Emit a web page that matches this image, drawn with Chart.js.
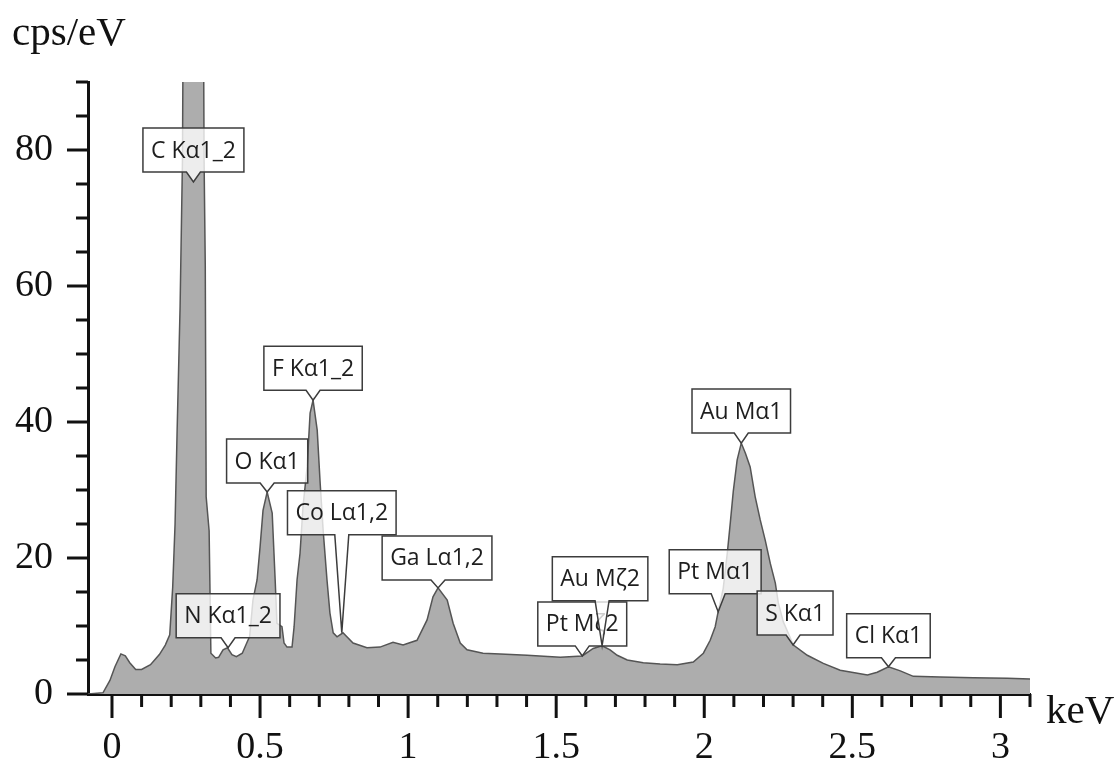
<!DOCTYPE html>
<html>
<head>
<meta charset="utf-8">
<script src="https://cdn.jsdelivr.net/npm/chart.js@4.4.1/dist/chart.umd.min.js"></script>
<style>
  html, body { margin: 0; padding: 0; background: #fff; }
  canvas { display: block; }
</style>
</head>
<body>
<canvas id="spectrum" width="1118" height="767"></canvas>
<script>
// EDS spectrum (keV / cps per eV)
const energies = [
  -0.081, -0.03, -0.007, 0.01, 0.03, 0.045, 0.06, 0.08, 0.10, 0.13,
  0.16, 0.18, 0.195, 0.205, 0.213, 0.22, 0.23, 0.238, 0.245, 0.305,
  0.311, 0.315, 0.318, 0.328, 0.334, 0.35, 0.36, 0.375, 0.39, 0.405,
  0.42, 0.44, 0.455, 0.465, 0.476, 0.49, 0.50, 0.51, 0.524, 0.541,
  0.551, 0.557, 0.574, 0.581, 0.591, 0.608, 0.615, 0.625, 0.635, 0.645,
  0.659, 0.669, 0.679, 0.693, 0.703, 0.713, 0.726, 0.736, 0.747, 0.76,
  0.78, 0.814, 0.861, 0.905, 0.949, 0.983, 1.03, 1.064, 1.084, 1.101,
  1.132, 1.152, 1.176, 1.199, 1.253, 1.311, 1.402, 1.514, 1.588, 1.625,
  1.655, 1.682, 1.706, 1.74, 1.794, 1.851, 1.909, 1.963, 1.997, 2.02,
  2.037, 2.047, 2.064, 2.078, 2.088, 2.098, 2.111, 2.125, 2.139, 2.155,
  2.172, 2.189, 2.206, 2.223, 2.24, 2.25, 2.267, 2.301, 2.348, 2.402,
  2.459, 2.551, 2.584, 2.622, 2.662, 2.706, 2.797, 2.909, 3.024, 3.101
];
const counts = [
  0, 0.2, 2.0, 4.0, 5.9, 5.6, 4.6, 3.6, 3.6, 4.3,
  5.8, 7.2, 8.7, 15.7, 25, 38.8, 57, 78.5, 140, 140,
  78.5, 63, 29, 24, 6, 5.3, 5.4, 6.5, 6.8, 5.8,
  5.5, 6.0, 7.5, 8.5, 13.8, 16.8, 21.6, 27, 29.7, 26.6,
  16.8, 10.4, 9.9, 7.5, 6.9, 6.9, 9.9, 16.8, 20.7, 27.5,
  33.4, 41.3, 43.2, 38.8, 31, 24.1, 16.8, 11.9, 9, 8.4,
  9, 7.5, 6.8, 6.9, 7.6, 7.2, 7.9, 10.9, 14.3, 15.6,
  13.8, 10.4, 7.5, 6.5, 6.0, 5.9, 5.7, 5.4, 5.6, 6.7,
  7.1, 6.5, 5.7, 5.0, 4.6, 4.4, 4.3, 4.7, 6.0, 7.9,
  9.9, 12.1, 15.5, 20.8, 25.2, 29.8, 34.4, 36.9, 35.4, 33.4,
  29.0, 25.6, 22.6, 19.2, 16.3, 13.4, 10.6, 7.2, 5.7, 4.5,
  3.5, 2.8, 3.2, 4.0, 3.4, 2.6, 2.5, 2.4, 2.3, 2.2
];

const xTickLabels = ['0', '0.5', '1', '1.5', '2', '2.5', '3'];
const yTickLabels = ['0', '20', '40', '60', '80'];

// peak callouts
const peakNames = ['C Kα1_2', 'N Kα1_2', 'O Kα1', 'F Kα1_2', 'Co Lα1,2', 'Ga Lα1,2',
  'Pt Mζ2', 'Au Mζ2', 'Pt Mα1', 'Au Mα1', 'S Kα1', 'Cl Kα1'];
const peakEnergies = [0.275, 0.392, 0.524, 0.679, 0.776, 1.101, 1.588, 1.655, 2.047, 2.125, 2.30, 2.622];
const peakCounts = [75.3, 6.8, 29.7, 43.2, 9.0, 15.6, 5.6, 7.1, 12.1, 36.9, 7.2, 4.0];

// where each box sits relative to its peak: [dx, gap above tip] in px
const peakBoxOffsets = [[0, 10], [0, 10], [0, 9], [0, 10], [0, 98], [-1, 8],
  [0, 10], [-2, 45], [-3, 18], [0, 10], [2, 10], [0, 9]];

const serif = '"Liberation Serif", "DejaVu Serif", serif';

function xLabel(v) {
  const s = String(+v.toFixed(1));
  return xTickLabels.includes(s) ? s : '';
}
function yLabel(v) {
  const s = String(Math.round(v));
  return yTickLabels.includes(s) ? s : '';
}

const peakLabels = {
  id: 'peakLabels',
  afterDatasetsDraw(chart) {
    const { ctx, scales: { x, y } } = chart;
    ctx.save();
    ctx.font = '23px "Open Sans"';
    ctx.lineWidth = 1.5;
    peakNames.forEach((name, i) => {
      const tx = x.getPixelForValue(peakEnergies[i]);
      const ty = y.getPixelForValue(peakCounts[i]);
      const [dx, gap] = peakBoxOffsets[i];
      const w = ctx.measureText(name).width + 16;
      const h = 44;
      const cx = tx + dx;
      const bottom = ty - gap;
      const left = cx - w / 2, right = cx + w / 2, top = bottom - h;
      ctx.beginPath();
      ctx.moveTo(left, top);
      ctx.lineTo(right, top);
      ctx.lineTo(right, bottom);
      ctx.lineTo(tx + 7, bottom);
      ctx.lineTo(tx, ty);
      ctx.lineTo(tx - 7, bottom);
      ctx.lineTo(left, bottom);
      ctx.closePath();
      ctx.fillStyle = 'rgba(255,255,255,0.78)';
      ctx.fill();
      ctx.strokeStyle = '#3c3c3c';
      ctx.stroke();
      ctx.fillStyle = '#1e1e1e';
      ctx.textAlign = 'center';
      ctx.textBaseline = 'middle';
      ctx.fillText(name, cx, top + h / 2 + 1);
    });
    ctx.restore();
  }
};

// tick marks (long at labelled values) and axis titles
const axisDecor = {
  id: 'axisDecor',
  afterDraw(chart) {
    const { ctx, chartArea, scales: { x, y } } = chart;
    ctx.save();
    ctx.strokeStyle = '#111';
    ctx.lineWidth = 3;
    x.ticks.forEach(t => {
      const px = x.getPixelForValue(t.value);
      const len = xLabel(t.value) ? 24 : 13;
      ctx.beginPath();
      ctx.moveTo(px, chartArea.bottom);
      ctx.lineTo(px, chartArea.bottom + len);
      ctx.stroke();
    });
    y.ticks.forEach(t => {
      const py = y.getPixelForValue(t.value);
      const len = yLabel(t.value) ? 21 : 12;
      ctx.beginPath();
      ctx.moveTo(chartArea.left, py);
      ctx.lineTo(chartArea.left - len, py);
      ctx.stroke();
    });
    ctx.fillStyle = '#111';
    ctx.font = '41px ' + serif;
    ctx.textAlign = 'left';
    ctx.textBaseline = 'alphabetic';
    ctx.fillText('cps/eV', 12, 45);
    ctx.fillText('keV', 1046, 723);
    ctx.restore();
  }
};

new Chart(document.getElementById('spectrum'), {
  type: 'line',
  data: {
    datasets: [{
      data: energies.map((e, i) => ({ x: e, y: counts[i] })),
      borderColor: '#555555',
      borderWidth: 1.5,
      backgroundColor: '#adadad',
      fill: 'origin',
      pointRadius: 0,
      tension: 0
    }]
  },
  options: {
    responsive: false,
    animation: false,
    devicePixelRatio: 1,
    layout: { padding: { top: 82, right: 88, left: 0, bottom: 0 } },
    plugins: { legend: { display: false }, tooltip: { enabled: false } },
    scales: {
      x: {
        type: 'linear',
        min: -0.081,
        max: 3.1,
        afterFit: s => { s.height = 73; },
        afterBuildTicks: s => {
          const t = [];
          for (let i = 0; i <= 31; i++) t.push({ value: i / 10 });
          s.ticks = t;
        },
        ticks: {
          autoSkip: false,
          maxRotation: 0,
          padding: 31,
          color: '#111',
          font: { family: serif, size: 38 },
          callback: v => xLabel(v)
        },
        grid: { drawOnChartArea: false, drawTicks: false },
        border: { display: true, color: '#111', width: 3 }
      },
      y: {
        min: 0,
        max: 90,
        afterFit: s => { s.width = 88; },
        ticks: {
          stepSize: 5,
          autoSkip: false,
          padding: 35,
          color: '#111',
          font: { family: serif, size: 38 },
          callback: v => yLabel(v)
        },
        grid: { drawOnChartArea: false, drawTicks: false },
        border: { display: true, color: '#111', width: 3 }
      }
    }
  },
  plugins: [peakLabels, axisDecor]
});
</script>
</body>
</html>
